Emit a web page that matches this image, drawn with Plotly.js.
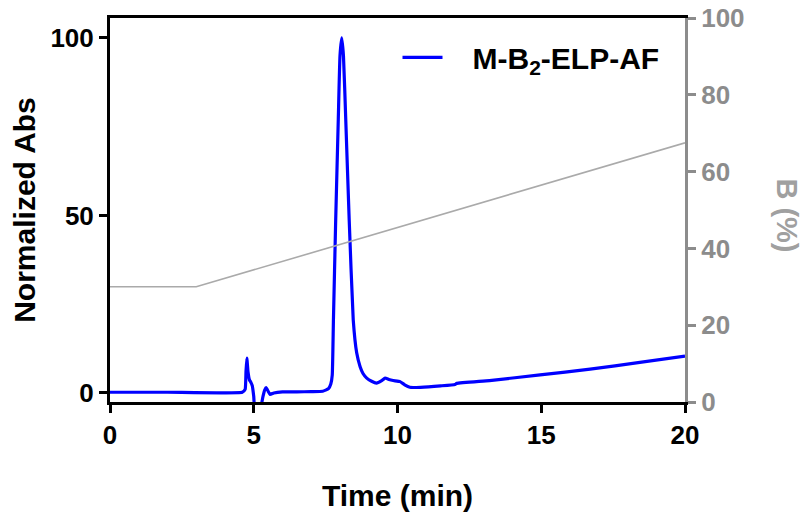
<!DOCTYPE html>
<html>
<head>
<meta charset="utf-8">
<script src="https://cdn.plot.ly/plotly-3.0.1.min.js"></script>
<style>html,body{margin:0;padding:0;background:#fff;}#chart{width:805px;height:521px;}</style>
</head>
<body>
<div id="chart"></div>
<script>
// Chromatogram (normalized absorbance) vs time
const timeMin = [0, 2, 4.6, 4.7, 4.73, 4.76, 4.8, 4.85, 4.9, 4.95, 5.0, 5.03, 5.25, 5.32, 5.38, 5.43, 5.5, 5.57, 5.7, 6.0, 6.5, 7.0, 7.4, 7.5, 7.6, 7.68, 7.73, 7.77, 7.85, 7.94, 8.0, 8.06, 8.12, 8.2, 8.32, 8.46, 8.58, 8.7, 8.8, 8.93, 9.1, 9.27, 9.45, 9.57, 9.7, 9.85, 10.09, 10.25, 10.43, 10.8, 11.5, 12.0, 12.06, 13.2, 14.96, 16.7, 18.43, 20];
const absNorm = [0.2, 0.2, 0.2, 1.0, 6.0, 9.8, 6.0, 3.7, 3.0, 2.0, -1.0, -3.5, -3.5, -1.0, 0.8, 1.5, 0.5, -0.4, 0.0, 0.3, 0.3, 0.4, 0.5, 0.8, 1.2, 2.5, 5.0, 20.0, 48.7, 77.0, 95.0, 100.0, 95.0, 77.0, 48.7, 20.6, 11.3, 7.4, 5.5, 4.2, 3.3, 2.8, 3.5, 4.2, 3.8, 3.5, 3.2, 2.3, 1.6, 1.6, 2.0, 2.4, 2.7, 3.5, 5.1, 6.7, 8.6, 10.4];
// Solvent gradient (B %)
const gradTime = [0, 3, 20];
const gradB = [30, 30, 67.5];
const seriesName = '\u00a0\u00a0\u00a0M-B<sub>2</sub>-ELP-AF';
const xTicks = [0, 5, 10, 15, 20];
const yTicks = [0, 50, 100];
const y2Ticks = [0, 20, 40, 60, 80, 100];

const FONT = 'Liberation Sans, Arial, Helvetica, sans-serif';
const GRAY = '#8c8c8c';

const traces = [
  {x: gradTime, y: gradB, yaxis: 'y2', type: 'scatter', mode: 'lines',
   line: {color: '#aaaaaa', width: 1.6}, showlegend: false, hoverinfo: 'skip'},
  {x: timeMin, y: absNorm, type: 'scatter', mode: 'lines', name: seriesName,
   line: {color: 'rgb(0,0,255)', width: 3.2, shape: 'spline', smoothing: 0.4}}
];

const layout = {
  width: 805, height: 521,
  margin: {l: 110, r: 120, t: 18, b: 119},
  paper_bgcolor: '#fff', plot_bgcolor: '#fff',
  font: {family: FONT, weight: 'bold', color: '#000'},
  showlegend: true,
  legend: {x: 0.5, xanchor: 'left', y: 0.965, yanchor: 'top', bgcolor: 'rgba(0,0,0,0)',
           font: {family: FONT, size: 30, weight: 'bold', color: '#000'}, itemwidth: 40},
  xaxis: {range: [0, 20], tickvals: xTicks, ticks: 'outside', ticklen: 8, tickwidth: 3,
          tickcolor: '#000', linecolor: '#000', linewidth: 3, mirror: true,
          showgrid: false, zeroline: false,
          tickfont: {family: FONT, size: 26, weight: 'bold', color: '#000'},
          title: {text: 'Time (min)', standoff: 36, font: {family: FONT, size: 30, weight: 'bold', color: '#000'}}},
  yaxis: {range: [-2.54, 105.6], tickvals: yTicks, ticks: 'outside', ticklen: 8, tickwidth: 3,
          tickcolor: '#000', linecolor: '#000', linewidth: 3, showgrid: false, zeroline: false,
          tickfont: {family: FONT, size: 26, weight: 'bold', color: '#000'},
          title: {text: 'Normalized Abs', standoff: 6, font: {family: FONT, size: 30, weight: 'bold', color: '#000'}}},
  yaxis2: {range: [0, 100], tickvals: y2Ticks, overlaying: 'y', side: 'right', anchor: 'x',
           ticks: 'outside', ticklen: 8, tickwidth: 3, tickcolor: GRAY, linecolor: GRAY, linewidth: 3,
           showgrid: false, zeroline: false,
           tickfont: {family: FONT, size: 26, weight: 'bold', color: GRAY}},
  annotations: [{text: 'B (%)', xref: 'paper', yref: 'paper', x: 1.178, y: 0.485,
                 xanchor: 'center', yanchor: 'middle', showarrow: false, textangle: 90,
                 font: {family: FONT, size: 29, weight: 'bold', color: '#a0a0a0'}}]
};

Plotly.newPlot('chart', traces, layout, {displayModeBar: false, staticPlot: true});
</script>
</body>
</html>
